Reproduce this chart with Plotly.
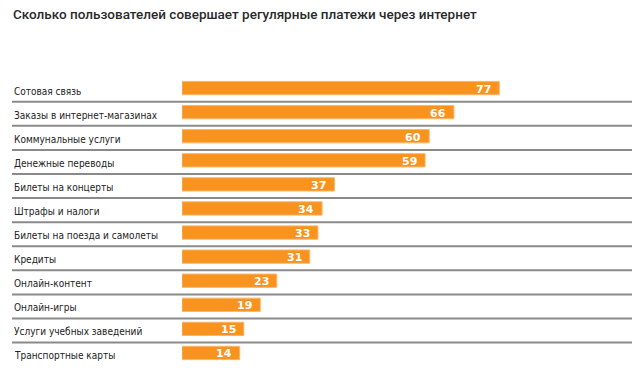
import plotly.graph_objects as go

title = "Сколько пользователей совершает регулярные платежи через интернет"
categories = [
    "Сотовая связь",
    "Заказы в интернет-магазинах",
    "Коммунальные услуги",
    "Денежные переводы",
    "Билеты на концерты",
    "Штрафы и налоги",
    "Билеты на поезда и самолеты",
    "Кредиты",
    "Онлайн-контент",
    "Онлайн-игры",
    "Услуги учебных заведений",
    "Транспортные карты",
]
values = [77, 66, 60, 59, 37, 34, 33, 31, 23, 19, 15, 14]

W, H = 644, 370
L, R, T, B = 182, 12, 76, 5
plot_w = W - L - R
x_max = plot_w / 4.12
left_paper = (12 - L) / plot_w

fig = go.Figure()
fig.add_trace(go.Bar(
    x=values, y=categories, orientation="h",
    width=0.553,
    marker=dict(color="#F7931E", line=dict(color="#FBB669", width=1)),
    hoverinfo="skip",
))

annotations = []
for c, v in zip(categories, values):
    annotations.append(dict(
        x=left_paper, xref="paper", y=c, yref="y", text=c, showarrow=False,
        xanchor="left", yanchor="middle", yshift=-3,
        font=dict(family="DejaVu Sans Condensed, Liberation Sans", size=10, color="#222222"),
    ))
    annotations.append(dict(
        x=v, xref="x", y=c, yref="y", text=str(v), showarrow=False,
        xanchor="right", yanchor="middle", xshift=-6, yshift=-1,
        font=dict(family="DejaVu Sans", size=11, color="white", weight="bold"),
    ))

shapes = []
for i in range(len(categories) - 1):
    shapes.append(dict(
        type="line", xref="paper", yref="y",
        x0=left_paper, x1=1, y0=i + 0.57, y1=i + 0.57,
        line=dict(color="#8A8A8A", width=2),
    ))

fig.update_layout(
    width=W, height=H,
    margin=dict(l=L, r=R, t=T, b=B),
    paper_bgcolor="white", plot_bgcolor="white",
    showlegend=False,
    title=dict(
        text=title, xref="container", x=13 / W, xanchor="left",
        yref="container", y=1 - 14 / H, yanchor="middle",
        font=dict(family="Roboto", size=13.5, color="#2a2a2a", weight=500),
    ),
    xaxis=dict(range=[0, x_max], visible=False, fixedrange=True),
    yaxis=dict(range=[len(categories) - 0.5, -0.5], visible=False,
               categoryorder="array", categoryarray=categories),
    annotations=annotations,
    shapes=shapes,
)

fig.write_html(
    "out.html",
    config={"displayModeBar": False},
    post_script="document.body.style.margin='0';document.body.style.overflow='hidden';",
)
